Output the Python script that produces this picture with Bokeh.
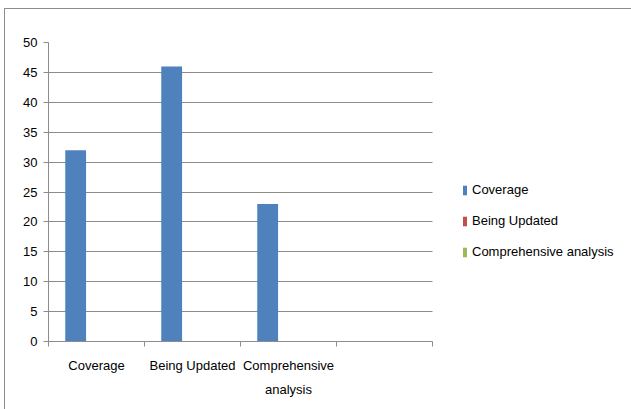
import numpy as np
from bokeh.plotting import figure
from bokeh.models import (Range1d, FixedTicker, SingleIntervalTicker, Legend,
                          LegendItem, ColumnDataSource)
from bokeh.transform import dodge
from bokeh.embed import file_html
from bokeh.resources import INLINE

# ---- data ----
categories = ["Coverage", "Being Updated", "Comprehensive analysis", ""]
tick_labels = ["Coverage", "Being Updated", "Comprehensive\nanalysis", ""]
series_names = ["Coverage", "Being Updated", "Comprehensive analysis"]
coverage = [32, 46, 23, 0]
being_updated = [0, 0, 0, 0]
comprehensive_analysis = [0, 0, 0, 0]
colors = ["#4F81BD", "#C0504D", "#9BBB59"]

n = len(categories)
centers = np.arange(n) + 0.5
source = ColumnDataSource(dict(
    x=centers,
    s0=coverage,
    s1=being_updated,
    s2=comprehensive_analysis,
))

FONT = "Liberation Sans"
FS = "13px"
GRAY = "#8c8c8c"

# plot area spans 48..432 px for the n categories; frame extends to the right edge
x_end = n * (631 - 48) / (432 - 48)

p = figure(width=631, height=409,
           x_range=Range1d(0, x_end), y_range=Range1d(0, 50),
           min_border_left=48, min_border_right=0,
           min_border_top=42, min_border_bottom=68,
           output_backend="svg", toolbar_location=None)

p.border_fill_color = None
p.background_fill_color = None
p.outline_line_color = None
p.styles = {
    "background": (
        "linear-gradient(#8c8c8c,#8c8c8c) 4px 8px / 1px 401px no-repeat, "
        "linear-gradient(#8c8c8c,#8c8c8c) 4px 8px / 627px 1px no-repeat, #ffffff"
    )
}

bw = 0.217
renderers = []
for i, (name, col) in enumerate(zip(series_names, colors)):
    r = p.vbar(x=dodge("x", (i - 1) * bw, range=p.x_range), top=f"s{i}", bottom=0,
               width=bw, source=source, fill_color=col, line_color=None)
    renderers.append(r)

# y axis
p.yaxis.ticker = SingleIntervalTicker(interval=5)
p.yaxis.axis_line_color = GRAY
p.yaxis.major_tick_line_color = GRAY
p.yaxis.major_tick_out = 5
p.yaxis.major_tick_in = 0
p.yaxis.minor_tick_line_color = None
p.yaxis.major_label_standoff = 6
p.yaxis.major_label_text_font = FONT
p.yaxis.major_label_text_font_size = FS
p.yaxis.major_label_text_color = "#000000"

# x axis
p.xaxis.bounds = (0, n)
p.xaxis.ticker = FixedTicker(ticks=list(centers), minor_ticks=list(range(n + 1)))
p.xaxis.major_label_overrides = {float(c): lab for c, lab in zip(centers, tick_labels)}
p.xaxis.axis_line_color = GRAY
p.xaxis.major_tick_line_color = None
p.xaxis.major_tick_out = 5
p.xaxis.major_tick_in = 0
p.xaxis.minor_tick_line_color = GRAY
p.xaxis.minor_tick_out = 5
p.xaxis.minor_tick_in = 0
p.xaxis.major_label_standoff = 11
p.xaxis.major_label_text_font = FONT
p.xaxis.major_label_text_font_size = FS
p.xaxis.major_label_text_line_height = 1.6
p.xaxis.major_label_text_color = "#000000"

p.xgrid.visible = False
p.ygrid.grid_line_color = GRAY
p.ygrid.grid_line_width = 1
p.ygrid.cross_bounds = (0, n)

legend = Legend(items=[LegendItem(label=nm, renderers=[r]) for nm, r in zip(series_names, renderers)],
                location=(414, 82))
legend.padding = 0
legend.margin = 0
legend.border_line_color = None
legend.background_fill_color = None
legend.glyph_width = 5
legend.glyph_height = 12
legend.label_standoff = 5
legend.spacing = 16
legend.label_text_font = FONT
legend.label_text_font_size = FS
legend.label_text_color = "#000000"
p.add_layout(legend, "center")

open("out.html", "w").write(file_html(p, INLINE))
